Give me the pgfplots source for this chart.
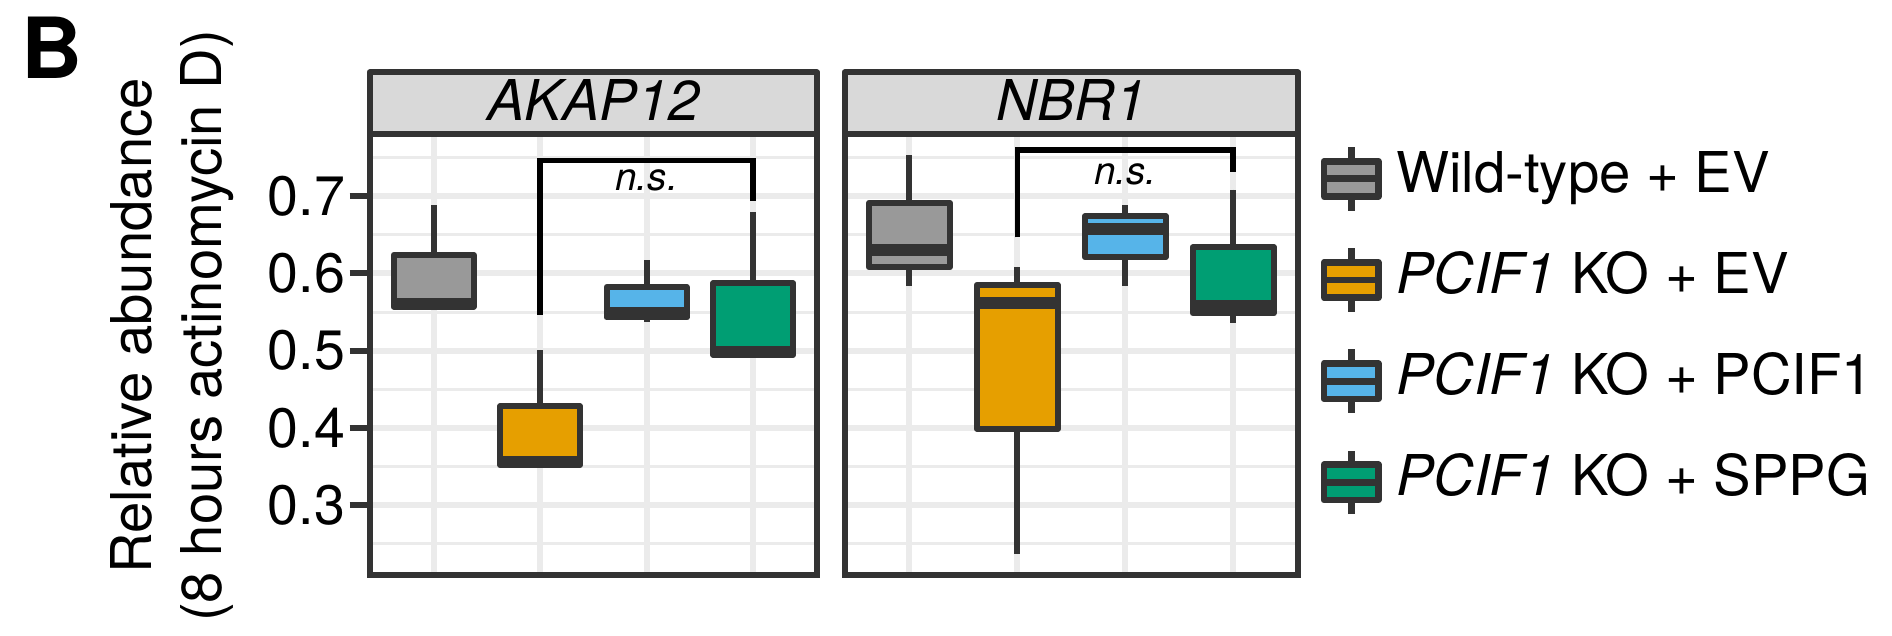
\documentclass[border=0pt]{standalone}
\usepackage{fontspec}
\setmainfont{TeX Gyre Heros}
\usepackage{pgfplots}
\pgfplotsset{compat=1.18}
\usepgfplotslibrary{statistics}

\definecolor{cgray}{HTML}{999999}
\definecolor{corange}{HTML}{E69F00}
\definecolor{cblue}{HTML}{56B4E9}
\definecolor{cgreen}{HTML}{009E73}
\definecolor{c20}{HTML}{333333}
\definecolor{cgrid}{HTML}{EBEBEB}
\definecolor{cstrip}{HTML}{D9D9D9}

% legend key: box with whiskers and median, like ggplot's
\newcommand{\legkey}[1]{%
  \draw[c20, line width=1.9pt] (0.2715cm,-0.317cm) -- (0.2715cm,0.317cm);
  \filldraw[draw=c20, fill=#1, line width=1.9pt, line join=round] (0cm,-0.1765cm) rectangle (0.543cm,0.1765cm);
  \draw[c20, line width=1.9pt] (0cm,0cm) -- (0.543cm,0cm);}

\pgfplotsset{
  panel/.style={
    scale only axis, anchor=south west, height=4.41cm,
    xmin=0.4, xmax=4.6, ymin=0.2097, ymax=0.7805,
    xtick={1,2,3,4}, xticklabels={},
    ytick={0.3,0.4,0.5,0.6,0.7},
    minor ytick={0.25,0.35,0.45,0.55,0.65,0.75},
    xmajorgrids, ymajorgrids, yminorgrids,
    major grid style={draw=cgrid, line width=1.7pt},
    minor grid style={draw=cgrid, line width=0.85pt},
    axis line style={draw=c20, line width=1.7pt},
    xtick style={draw=none}, minor tick length=0pt,
  },
  bx/.style={draw=c20, line width=1.7pt, line join=round,
    boxplot/draw direction=y,
    boxplot/box extend=0.75, boxplot/whisker extend=0,
    boxplot/every median/.style={line width=3.4pt}},
}

\begin{document}
\begin{tikzpicture}
\useasboundingbox (0,0) rectangle (18.92,6.36);

% panel 1: AKAP12
\begin{axis}[panel, at={(3.697cm,0.61cm)}, width=4.473cm,
  ytick pos=left, tick align=outside, major tick length=0.2cm,
  ytick style={draw=c20, line width=1.7pt},
  yticklabel style={font=\fontsize{15.8}{18}\selectfont, inner sep=0pt, xshift=-0.04cm,
    /pgf/number format/.cd, fixed, fixed zerofill, precision=1, assume math mode=true}]
\addplot[bx, fill=cgray, boxplot prepared={draw position=1, lower whisker=0.557, lower quartile=0.557,
  median=0.561, upper quartile=0.624, upper whisker=0.688}] coordinates {};
\addplot[bx, fill=corange, boxplot prepared={draw position=2, lower whisker=0.352, lower quartile=0.352,
  median=0.3555, upper quartile=0.428, upper whisker=0.501}] coordinates {};
\addplot[bx, fill=cblue, boxplot prepared={draw position=3, lower whisker=0.537, lower quartile=0.543,
  median=0.549, upper quartile=0.5825, upper whisker=0.617}] coordinates {};
\addplot[bx, fill=cgreen, boxplot prepared={draw position=4, lower whisker=0.4945, lower quartile=0.4945,
  median=0.498, upper quartile=0.5874, upper whisker=0.679}] coordinates {};
\addplot[black, line width=1.6pt] coordinates {(2,0.5463) (2,0.7462) (4,0.7462) (4,0.6942)};
\node[anchor=base, font=\itshape\fontsize{11}{13}\selectfont] at (axis cs:3,0.7076) {n.s.};
\end{axis}

% panel 2: NBR1
\begin{axis}[panel, at={(8.447cm,0.61cm)}, width=4.533cm,
  yticklabels={}, major tick length=0pt,
  legend cell align=left,
  legend style={at={(1.0501,0.5542)}, anchor=west, draw=none, fill=none,
    inner sep=0pt, outer sep=0pt, row sep=0.311cm, column sep=0.145cm,
    font=\fontsize{16}{19}\selectfont,
    nodes={inner sep=0pt, text height=11.7pt, text depth=4.2pt}}]
\addlegendimage{legend image code/.code={\legkey{cgray}}}
\addlegendentry{Wild-type + EV}
\addlegendimage{legend image code/.code={\legkey{corange}}}
\addlegendentry{\textit{PCIF1} KO + EV}
\addlegendimage{legend image code/.code={\legkey{cblue}}}
\addlegendentry{\textit{PCIF1} KO + PCIF1}
\addlegendimage{legend image code/.code={\legkey{cgreen}}}
\addlegendentry{\textit{PCIF1} KO + SPPG}
\addplot[bx, fill=cgray, boxplot prepared={draw position=1, lower whisker=0.5832, lower quartile=0.6078,
  median=0.6309, upper quartile=0.6913, upper whisker=0.7533}] coordinates {};
\addplot[bx, fill=corange, boxplot prepared={draw position=2, lower whisker=0.2367, lower quartile=0.399,
  median=0.5616, upper quartile=0.5852, upper whisker=0.6089}] coordinates {};
\addplot[bx, fill=cblue, boxplot prepared={draw position=3, lower whisker=0.5832, lower quartile=0.6211,
  median=0.6576, upper quartile=0.674, upper whisker=0.6884}] coordinates {};
\addplot[bx, fill=cgreen, boxplot prepared={draw position=4, lower whisker=0.5365, lower quartile=0.5483,
  median=0.5585, upper quartile=0.634, upper whisker=0.7084}] coordinates {};
\addplot[black, line width=1.6pt] coordinates {(2,0.6467) (2,0.7595) (4,0.7595) (4,0.7311)};
\node[anchor=base, font=\itshape\fontsize{11}{13}\selectfont] at (axis cs:3,0.7151) {n.s.};
\end{axis}

% facet strips
\draw[draw=c20, fill=cstrip, line width=1.7pt, line join=round] (3.697,5.02) rectangle (8.17,5.635);
\draw[draw=c20, fill=cstrip, line width=1.7pt, line join=round] (8.447,5.02) rectangle (12.98,5.635);
\node[anchor=base, inner sep=0pt, font=\itshape\fontsize{16}{19}\selectfont] at (5.934,5.157) {AKAP12};
\node[anchor=base, inner sep=0pt, font=\itshape\fontsize{16}{19}\selectfont] at (10.714,5.157) {NBR1};

% y title and panel letter
\node[rotate=90, anchor=base, inner sep=0pt, font=\fontsize{16}{19}\selectfont] at (1.517,3.10) {Relative abundance};
\node[rotate=90, anchor=base, inner sep=0pt, font=\fontsize{16}{19}\selectfont] at (2.217,3.10) {(8 hours actinomycin D)};
\node[anchor=base west, inner sep=0pt, font=\bfseries\fontsize{24}{28}\selectfont] at (0.21,5.577) {B};
\end{tikzpicture}
\end{document}
